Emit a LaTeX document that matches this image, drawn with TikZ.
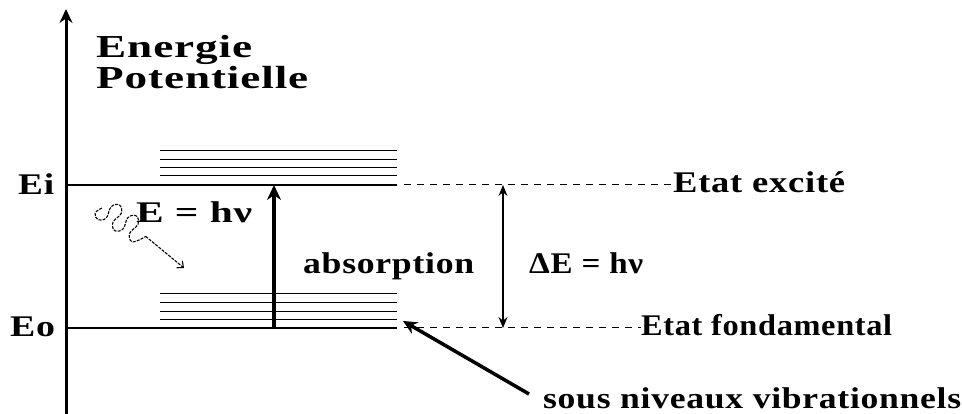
\documentclass[tikz,border=0pt]{standalone}
\usepackage{fontspec}
\setmainfont{Liberation Serif}
\newfontfamily\labelfont[LetterSpace=2]{Liberation Serif}
\usetikzlibrary{arrows.meta}
% set a label to a given width, keeping its natural height
\newcommand\fitw[2]{\resizebox{#1}{\height}{#2}}

\begin{document}
\begin{tikzpicture}[x=1pt,y=-1pt,
  lbl/.style={inner sep=0pt, anchor=base west,
    font=\labelfont\bfseries\fontsize{30}{32}\selectfont},
  biglbl/.style={lbl, font=\labelfont\bfseries\fontsize{32}{34}\selectfont},
  level/.style={line width=1.3pt},
  sublevel/.style={line width=1pt},
  guide/.style={line width=1pt, dash pattern=on 7pt off 6pt},
  axis/.style={line width=3pt, -{Stealth[length=14pt,width=13pt]}},
  transition/.style={line width=4pt, -{Stealth[length=15pt,width=14pt]}},
  gap/.style={line width=1.3pt, {Stealth[length=11pt,width=9pt]}-{Stealth[length=11pt,width=9pt]}},
  pointer/.style={line width=3.5pt, -{Stealth[length=14pt,width=13pt]}},
  photon/.style={line width=1.1pt, dash pattern=on 3pt off 1.2pt}
]
\useasboundingbox (0,0) rectangle (962,414);

% energy axis
\coordinate (axB) at (66,416);
\coordinate (axT) at (66,9);
\draw[axis] (axB) -- (axT);

% axis title
\node[biglbl] (t1) at (96,58) {\fitw{156pt}{Energie}};
\node[biglbl] (t2) at (96,89) {\fitw{212pt}{Potentielle}};

% electronic levels
\coordinate (EiL) at (66,185);  \coordinate (EiR) at (397,185);
\coordinate (EoL) at (66,328);  \coordinate (EoR) at (397,328);
\draw[level] (EiL) -- (EiR);
\draw[level] (EoL) -- (EoR);

% vibrational sublevels
\foreach \y in {151,160,168,176,294,303,312,320}
  \draw[sublevel] (160,\y) -- (397,\y);

% level labels
\node[lbl] (Ei) at (18,195) {\fitw{36pt}{Ei}};
\node[lbl] (Eo) at (10,336) {\fitw{45pt}{Eo}};

% state names with guide lines
\node[lbl] (exc) at (673,193) {\fitw{172pt}{Etat excité}};
\node[lbl] (fond) at (641,336) {\fitw{251pt}{Etat fondamental}};
\coordinate (EiD) at (404,185);
\coordinate (EoD) at (404,328);
\draw[guide] (EiD) -- (exc.west |- EiD);
\draw[guide] (EoD) -- (fond.west |- EoD);

% absorption transition
\coordinate (abs0) at (274,328);
\coordinate (abs1) at (274,185);
\draw[transition] (abs0) -- (abs1);
\node[lbl] (absl) at (303,274) {\fitw{171pt}{absorption}};

% energy gap
\coordinate (gapT) at (503,185);
\coordinate (gapB) at (503,328);
\draw[gap] (gapT) -- (gapB);
\node[lbl] (dE) at (529,273) {\fitw{114pt}{ΔE = hν}};

% incoming photon: a looping wave travelling down-right, then an arrow
\node[lbl] (Eh) at (136,223) {\fitw{116pt}{E = hν}};
\begin{scope}[shift={(102,208)}, rotate=-33]
  \draw[photon] plot[smooth, tension=0.7] coordinates {
    (0,0) (-3,8) (3,12) (9,6) (7,-6) (13,-12) (19,-6) (17,6) (23,12)
    (29,6) (27,-6) (33,-12) (39,-6) (37,6) (43,12) (49,6) (52,0)};
  \coordinate (w1) at (52,0);
\end{scope}
\coordinate (w2) at (184,268);
\draw[photon, -{Straight Barb[length=5pt,width=9pt]}] (w1) -- (w2);

% sublevel pointer
\node[lbl] (sous) at (543,408) {\fitw{418pt}{sous niveaux vibrationnels}};
\coordinate (pS) at (529,394);
\coordinate (pE) at (403,321);
\draw[pointer] (pS) -- (pE);
\end{tikzpicture}
\end{document}
